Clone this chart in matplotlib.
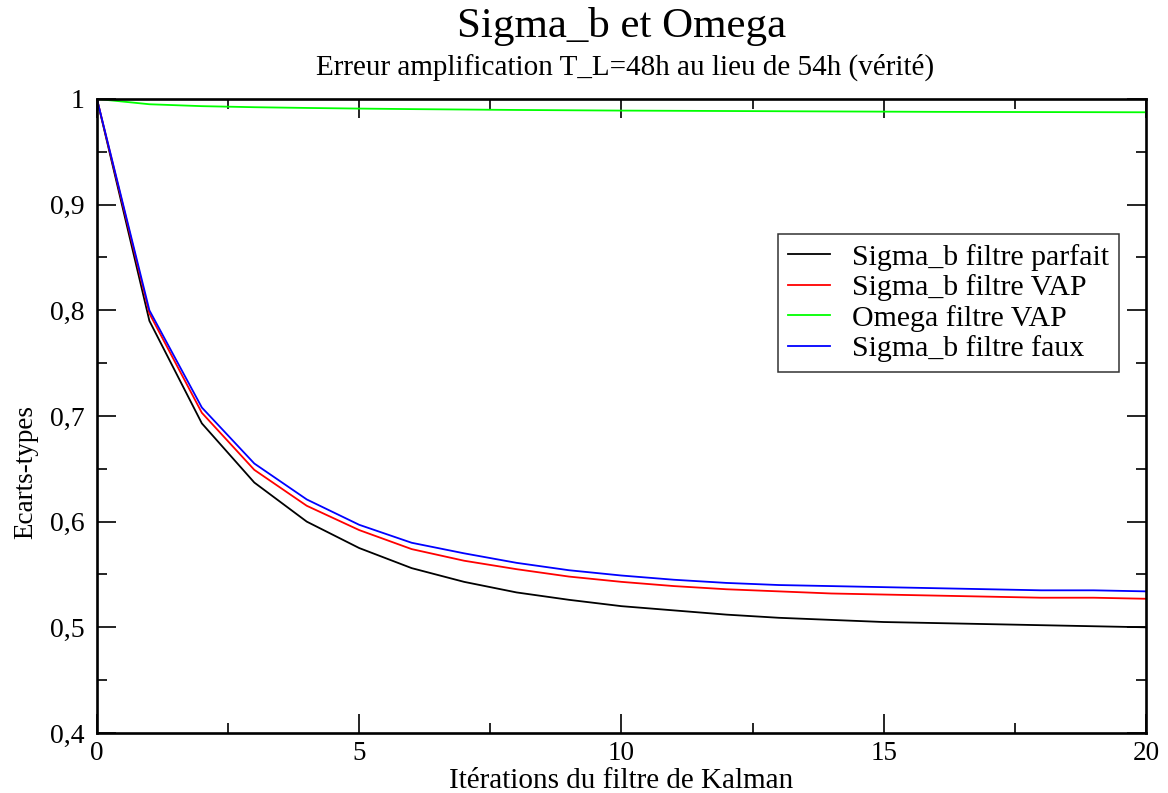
import numpy as np
import matplotlib
matplotlib.use("Agg")
import matplotlib.pyplot as plt
import matplotlib.ticker as ticker

iterations = list(range(21))
sigma_parfait = [1.0, 0.790, 0.693, 0.637, 0.600, 0.575, 0.556, 0.543, 0.533, 0.526, 0.520,
                 0.516, 0.512, 0.509, 0.507, 0.505, 0.504, 0.503, 0.502, 0.501, 0.500]
sigma_vap = [1.0, 0.797, 0.703, 0.649, 0.615, 0.592, 0.574, 0.563, 0.555, 0.548, 0.543,
             0.539, 0.536, 0.534, 0.532, 0.531, 0.530, 0.529, 0.528, 0.528, 0.527]
omega_vap = [1.0, 0.9950, 0.9932, 0.9922, 0.9915, 0.9909, 0.9904, 0.9900, 0.9896, 0.9893, 0.9890,
             0.9888, 0.9886, 0.9884, 0.9882, 0.9880, 0.9878, 0.9877, 0.9876, 0.9875, 0.9874]
sigma_faux = [1.0, 0.800, 0.708, 0.655, 0.621, 0.597, 0.580, 0.570, 0.561, 0.554, 0.549,
              0.545, 0.542, 0.540, 0.539, 0.538, 0.537, 0.536, 0.535, 0.535, 0.534]

plt.rcParams['font.family'] = ['Liberation Serif', 'DejaVu Serif']


def comma_fmt(v, pos):
    if abs(v - round(v)) < 1e-9:
        return f"{int(round(v))}"
    return f"{v:.1f}".replace('.', ',')


fig = plt.figure(figsize=(11.68, 7.93), dpi=100)
ax = fig.add_axes([0.0830, 0.0757, 0.8982, 0.7995])

lw = 1.3
ax.plot(iterations, sigma_parfait, color='black', lw=lw, label="Sigma_b filtre parfait")
ax.plot(iterations, sigma_vap, color='red', lw=lw, label="Sigma_b filtre VAP")
ax.plot(iterations, omega_vap, color='#00ff00', lw=lw, label="Omega filtre VAP")
ax.plot(iterations, sigma_faux, color='blue', lw=lw, label="Sigma_b filtre faux")

ax.set_xlim(0, 20)
ax.set_ylim(0.4, 1.0)
ax.xaxis.set_major_locator(ticker.MultipleLocator(5))
ax.xaxis.set_minor_locator(ticker.MultipleLocator(2.5))
ax.yaxis.set_major_locator(ticker.MultipleLocator(0.1))
ax.yaxis.set_minor_locator(ticker.MultipleLocator(0.05))
ax.yaxis.set_major_formatter(ticker.FuncFormatter(comma_fmt))

for s in ax.spines.values():
    s.set_linewidth(1.9)
ax.tick_params(which='both', direction='in', top=True, right=True, labelsize=20, width=1.2)
ax.tick_params(which='major', length=14)
ax.tick_params(axis='y', which='major', pad=9)
ax.tick_params(axis='x', which='major', labelsize=19.5, pad=5.5)
ax.tick_params(which='minor', length=7)

ax.set_xlabel("Itérations du filtre de Kalman", fontsize=21, labelpad=1.5)
fig.text(13 / 1168, 1 - 472 / 793, "Ecarts-types", rotation=90, ha='left', va='center', fontsize=19.5)

fig.text(622 / 1168, 1 - 37 / 793, "Sigma_b et Omega", ha='center', va='baseline', fontsize=31)
fig.text(625 / 1168, 1 - 75 / 793, "Erreur amplification T_L=48h au lieu de 54h (vérité)",
         ha='center', va='baseline', fontsize=21)

leg = ax.legend(loc='upper left', bbox_to_anchor=(778 / 1168, 1 - 234 / 793), bbox_transform=fig.transFigure,
                fontsize=21.5, frameon=True, fancybox=False, handlelength=1.4, handletextpad=0.75,
                borderpad=0.33, borderaxespad=0, labelspacing=0.12)
leg.get_frame().set_edgecolor('black')
leg.get_frame().set_linewidth(1.1)

fig.savefig("out.png", dpi=100)
